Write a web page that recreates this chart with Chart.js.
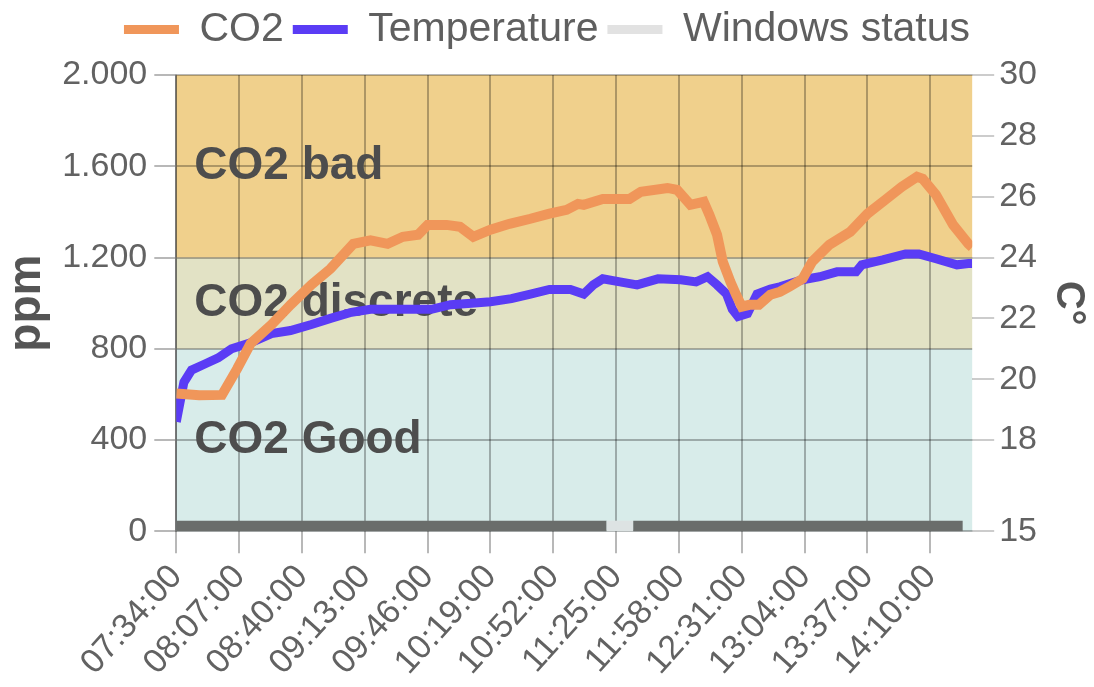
<!DOCTYPE html>
<html>
<head>
<meta charset="utf-8">
<script src="https://cdn.jsdelivr.net/npm/chart.js@4/dist/chart.umd.min.js"></script>
<style>
html, body { margin: 0; padding: 0; background: #fff; }
#wrap { width: 1094px; height: 687px; }
</style>
</head>
<body>
<div id="wrap"><canvas id="chart-area"></canvas></div>
<script>
// readings (HH:MM)
var co2Times = ['07:34','07:46','07:58','08:06','08:13','08:24','08:34','08:45','08:55','09:07','09:16','09:25','09:33','09:41','09:46','09:56','10:03','10:10','10:19','10:29','10:40','10:50','10:59','11:05','11:08','11:18','11:32','11:38','11:52','11:57','12:04','12:11','12:14','12:18','12:21','12:25','12:28','12:31','12:35','12:40','12:46','12:51','12:56','13:03','13:08','13:17','13:28','13:37','13:47','13:55','14:03','14:06','14:13','14:22','14:30','14:32'];
var co2Values = [604,596,598,713,823,906,993,1081,1151,1260,1275,1260,1291,1300,1343,1343,1335,1291,1322,1348,1370,1392,1409,1435,1431,1457,1457,1488,1505,1497,1431,1444,1387,1300,1182,1094,1037,985,993,993,1037,1050,1072,1107,1182,1256,1313,1392,1457,1510,1554,1545,1475,1343,1260,1245];

var tempTimes = ['07:34','07:38','07:42','07:49','07:56','08:03','08:13','08:24','08:34','08:45','08:55','09:06','09:16','09:27','09:37','09:48','09:58','10:09','10:19','10:30','10:40','10:50','11:01','11:08','11:13','11:18','11:27','11:36','11:47','11:59','12:07','12:13','12:18','12:23','12:26','12:29','12:34','12:39','12:46','12:51','12:56','13:03','13:12','13:21','13:31','13:34','13:45','13:57','14:04','14:13','14:24','14:30','14:32'];
var tempValues = [18.6,19.9,20.3,20.5,20.7,21.0,21.2,21.5,21.6,21.8,22.0,22.2,22.3,22.3,22.3,22.3,22.45,22.5,22.55,22.65,22.8,22.95,22.95,22.8,23.1,23.3,23.2,23.1,23.3,23.27,23.2,23.37,23.1,22.8,22.3,22.06,22.16,22.8,22.96,23.04,23.14,23.27,23.37,23.53,23.53,23.76,23.92,24.12,24.12,23.96,23.76,23.8,23.8];

var windowTimes = ['07:34','11:20','11:34','14:27'];
var windowOpen = [0,1,0,0];
var windowLevel = 22;

var xTickLabels = ['07:34','08:07','08:40','09:13','09:46','10:19','10:52','11:25','11:58','12:31','13:04','13:37','14:10'];

var zoneNames = ['CO2 Good','CO2 discrete','CO2 bad'];
var zoneFrom = [0,800,1200];
var zoneTo = [800,1200,2000];
var zoneColors = ['#d8ecea','#e2e2c5','#f0d08c'];

var legendColors = ['#f0965a','#5a3cf5','#e2e2e2'];

function toMin(s) {
	var p = s.split(':');
	return Number(p[0]) * 60 + Number(p[1]);
}
function fmtTime(v) {
	var h = Math.floor(v / 60), m = v % 60;
	return (h < 10 ? '0' : '') + h + ':' + (m < 10 ? '0' : '') + m + ':00';
}
function fmtPpm(v) {
	return String(v).replace(/\B(?=(\d{3})+(?!\d))/g, '.');
}

Chart.defaults.font.family = "'Liberation Sans', Arial, sans-serif";
Chart.defaults.color = '#626262';

var gridColor = 'rgba(0,0,0,0.28)';

var zonePlugin = {
	id: 'zones',
	beforeInit: function (chart) {
		// a bit more room under the legend
		var fit = chart.legend.fit;
		chart.legend.fit = function () {
			fit.call(this);
			this.height += 15;
		};
	},
	beforeDraw: function (chart) {
		var ctx = chart.ctx, a = chart.chartArea, y = chart.scales.y;
		ctx.save();
		for (var i = 0; i < zoneNames.length; i++) {
			var top = y.getPixelForValue(zoneTo[i]);
			var bottom = y.getPixelForValue(zoneFrom[i]);
			ctx.fillStyle = zoneColors[i];
			ctx.fillRect(a.left, top, a.right - a.left, bottom - top);
		}
		ctx.restore();
	},
	beforeDatasetsDraw: function (chart) {
		var ctx = chart.ctx, a = chart.chartArea, y = chart.scales.y;
		ctx.save();
		ctx.font = "bold 46px 'Liberation Sans', Arial, sans-serif";
		ctx.fillStyle = '#4d4d4d';
		ctx.textBaseline = 'middle';
		ctx.textAlign = 'left';
		for (var i = 0; i < zoneNames.length; i++) {
			ctx.fillText(zoneNames[i], a.left + 18, y.getPixelForValue((zoneFrom[i] + zoneTo[i]) / 2));
		}
		ctx.restore();
	}
};

var config = {
	type: 'line',
	data: {
		datasets: [{
			label: 'CO2',
			data: co2Times.map(function (t, i) { return { x: toMin(t), y: co2Values[i] }; }),
			borderColor: '#f0965a',
			backgroundColor: '#f0965a',
			borderWidth: 10,
			pointRadius: 0,
			tension: 0,
			yAxisID: 'y'
		}, {
			label: 'Temperature',
			data: tempTimes.map(function (t, i) { return { x: toMin(t), y: tempValues[i] }; }),
			borderColor: '#5a3cf5',
			backgroundColor: '#5a3cf5',
			borderWidth: 9,
			pointRadius: 0,
			tension: 0,
			yAxisID: 'y1'
		}, {
			label: 'Windows status',
			data: windowTimes.map(function (t) { return { x: toMin(t), y: windowLevel }; }),
			borderColor: '#6a6d6b',
			backgroundColor: '#e2e2e2',
			borderWidth: 11,
			borderCapStyle: 'butt',
			pointRadius: 0,
			tension: 0,
			yAxisID: 'y',
			segment: {
				borderColor: function (c) { return windowOpen[c.p0DataIndex] ? '#dde3e3' : '#6a6d6b'; }
			}
		}]
	},
	options: {
		responsive: true,
		maintainAspectRatio: false,
		animation: false,
		layout: { padding: { left: 0, right: 0, top: 0, bottom: 0 } },
		plugins: {
			tooltip: { enabled: false },
			legend: {
				display: true,
				position: 'top',
				labels: {
					boxWidth: 55,
					boxHeight: 9,
					padding: 9,
					color: '#5f5f5f',
					font: { size: 41 },
					generateLabels: function (chart) {
						return Chart.defaults.plugins.legend.labels.generateLabels(chart).map(function (l) {
							l.fillStyle = legendColors[l.datasetIndex];
							l.strokeStyle = legendColors[l.datasetIndex];
							l.lineWidth = 0;
							return l;
						});
					}
				}
			}
		},
		scales: {
			x: {
				type: 'linear',
				min: toMin('07:34'),
				max: toMin('14:32'),
				afterBuildTicks: function (scale) {
					scale.ticks = xTickLabels.map(function (t) { return { value: toMin(t) }; });
				},
				ticks: {
					autoSkip: false,
					minRotation: 48,
					maxRotation: 48,
					padding: 4,
					font: { size: 34 },
					callback: function (v) { return fmtTime(v); }
				},
				grid: { color: gridColor, lineWidth: 2, tickLength: 22 },
				border: { display: false }
			},
			y: {
				position: 'left',
				min: 0,
				max: 2000,
				ticks: {
					stepSize: 400,
					padding: 7,
					font: { size: 34 },
					callback: function (v) { return fmtPpm(v); }
				},
				grid: { color: gridColor, lineWidth: 2, tickLength: 22 },
				border: { color: 'rgba(0,0,0,0.35)', width: 2 },
				title: { display: true, text: 'ppm', color: '#555', font: { size: 46, weight: 'bold' }, padding: 0 }
			},
			y1: {
				position: 'right',
				min: 15,
				max: 30,
				ticks: {
					stepSize: 2,
					padding: 5,
					font: { size: 34 }
				},
				grid: { drawOnChartArea: false, color: 'rgba(0,0,0,0.2)', lineWidth: 2, tickLength: 22 },
				border: { display: false },
				title: { display: true, text: 'C°', color: '#555', font: { size: 40, weight: 'bold' }, padding: 2 }
			}
		}
	},
	plugins: [zonePlugin]
};

window.onload = function () {
	var ctx = document.getElementById('chart-area').getContext('2d');
	window.myChart = new Chart(ctx, config);
};
</script>
</body>
</html>
